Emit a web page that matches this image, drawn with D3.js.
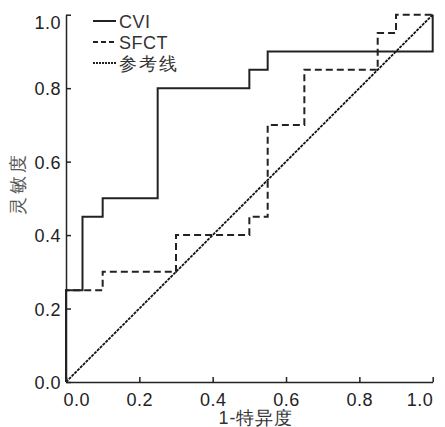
<!DOCTYPE html>
<html>
<head>
<meta charset="utf-8">
<script src="https://cdn.jsdelivr.net/npm/d3@7"></script>
<style>
  body { margin: 0; background: #fff; }
  text { font-family: "Liberation Sans", Arial, sans-serif; }
</style>
</head>
<body>
<div id="chart"></div>
<script>
// ROC curve vertices (1-specificity, sensitivity)
const cviFpr = [0, 0, 0.045, 0.1, 0.25, 0.5, 0.55, 1];
const cviTpr = [0, 0.25, 0.45, 0.5, 0.8, 0.85, 0.9, 1];
const sfctFpr = [0, 0, 0.1, 0.3, 0.5, 0.55, 0.65, 0.85, 0.9, 1];
const sfctTpr = [0, 0.25, 0.3, 0.4, 0.45, 0.7, 0.85, 0.95, 1, 1];
const refFpr = [0, 1];
const refTpr = [0, 1];
const ticks = [0, 0.2, 0.4, 0.6, 0.8, 1.0];
const legendNames = ["CVI", "SFCT", "参考线"];

let margin = { top: 14.7, left: 66, right: 12.3, bottom: 45 },
  width = 445 - margin.left - margin.right,
  height = 427 - margin.top - margin.bottom;

const svg = d3.select("#chart").append("svg")
  .attr("width", 445)
  .attr("height", 427);

const g = svg.append("g")
  .attr("transform", "translate(" + margin.left + "," + margin.top + ")");

const x = d3.scaleLinear().domain([0, 1]).range([0, width]);
const y = d3.scaleLinear().domain([0, 1]).range([height, 0]);

// axes
const xAxis = g.append("g")
  .attr("transform", "translate(0," + height + ")")
  .call(d3.axisBottom(x).tickValues(ticks).tickFormat(d3.format(".1f"))
    .tickSizeInner(-5).tickSizeOuter(0).tickPadding(11));

const yAxis = g.append("g")
  .call(d3.axisLeft(y).tickValues(ticks).tickFormat(d3.format(".1f"))
    .tickSizeInner(-5).tickSizeOuter(0).tickPadding(5));

[xAxis, yAxis].forEach(a => {
  a.select(".domain").attr("stroke", "#222").attr("stroke-width", 1.5);
  a.selectAll(".tick line").attr("stroke", "#222").attr("stroke-width", 1.5);
  a.selectAll(".tick text")
    .attr("fill", "#222")
    .style("font-size", "18px")
    .style("letter-spacing", "0.5px");
});

xAxis.selectAll(".tick text")
  .attr("text-anchor", (d, i) => i === 0 ? "start" : (i === ticks.length - 1 ? "end" : "middle"))
  .attr("dx", (d, i) => i === 0 ? -3 : 0);
yAxis.selectAll(".tick text")
  .attr("dy", d => d === 1 ? "0.75em" : "0.36em");

// lines
const line = d3.line()
  .x(d => x(d[0]))
  .y(d => y(d[1]))
  .curve(d3.curveStepAfter);

const cvi = d3.zip(cviFpr, cviTpr);
const sfct = d3.zip(sfctFpr, sfctTpr);
const ref = d3.zip(refFpr, refTpr);

g.append("path")
  .datum(ref)
  .attr("d", d3.line().x(d => x(d[0])).y(d => y(d[1])))
  .attr("fill", "none")
  .attr("stroke", "#111")
  .attr("stroke-width", 1.8)
  .attr("stroke-dasharray", "3,1");

g.append("path")
  .datum(sfct)
  .attr("d", line)
  .attr("fill", "none")
  .attr("stroke", "#222")
  .attr("stroke-width", 2)
  .attr("stroke-dasharray", "7,4");

g.append("path")
  .datum(cvi)
  .attr("d", line)
  .attr("fill", "none")
  .attr("stroke", "#222")
  .attr("stroke-width", 2);

// legend
const dashes = [null, "5,3", "2,1"];
const legend = svg.append("g");
legendNames.forEach((name, i) => {
  let ly = 21 + i * 21;
  legend.append("line")
    .attr("x1", 93).attr("x2", 116)
    .attr("y1", ly).attr("y2", ly)
    .attr("stroke", "#222")
    .attr("stroke-width", 2)
    .attr("stroke-dasharray", dashes[i]);
  legend.append("text")
    .attr("x", 119)
    .attr("y", ly + 7)
    .attr("fill", "#333")
    .style("font-size", "18px")
    .style("letter-spacing", i === 2 ? "2px" : "0.5px")
    .text(name);
});

// axis titles
svg.append("text")
  .attr("x", 256)
  .attr("y", 424)
  .attr("text-anchor", "middle")
  .attr("fill", "#333")
  .style("font-size", "18px")
  .style("letter-spacing", "1px")
  .text("1-特异度");

svg.append("text")
  .attr("transform", "translate(24,183) rotate(-90)")
  .attr("text-anchor", "middle")
  .attr("fill", "#555")
  .style("font-size", "18px")
  .style("letter-spacing", "3px")
  .text("灵敏度");
</script>
</body>
</html>
